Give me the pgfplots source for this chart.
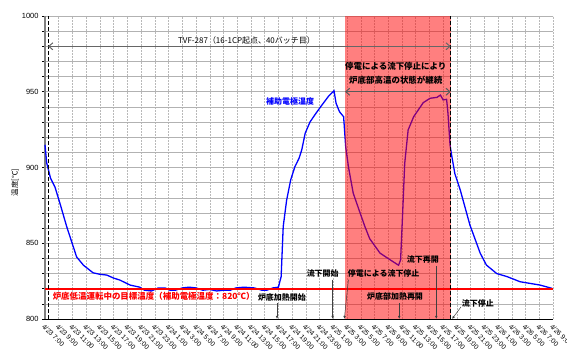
\documentclass[border=0pt]{standalone}
\usepackage{pgfplots}
\pgfplotsset{compat=1.18}
\usepackage{fontspec}
\setmainfont{Liberation Sans}
\newfontfamily\jp{Noto Sans CJK JP}
\usetikzlibrary{arrows.meta}
\begin{document}
\begin{tikzpicture}
\begin{axis}[
  at={(45bp,39bp)}, anchor=south west,
  scale only axis, width=508bp, height=303bp,
  xmin=0, xmax=74, ymin=800, ymax=1000,
  clip=false,
  axis x line*=bottom, axis y line*=left, axis line style={-},
  x axis line style={black, line width=0.9pt},
  y axis line style={gray, line width=2pt},
  xtick={0,2,...,74},
  xticklabels={4/23 7:00,4/23 9:00,4/23 11:00,4/23 13:00,4/23 15:00,4/23 17:00,4/23 19:00,4/23 21:00,4/23 23:00,4/24 1:00,4/24 3:00,4/24 5:00,4/24 7:00,4/24 9:00,4/24 11:00,4/24 13:00,4/24 15:00,4/24 17:00,4/24 19:00,4/24 21:00,4/24 23:00,4/25 1:00,4/25 3:00,4/25 5:00,4/25 7:00,4/25 9:00,4/25 11:00,4/25 13:00,4/25 15:00,4/25 17:00,4/25 19:00,4/25 21:00,4/25 23:00,4/26 1:00,4/26 3:00,4/26 5:00,4/26 7:00,4/26 9:00},
  xticklabel style={rotate=-45, anchor=north west, font=\fontsize{6.8}{8}\selectfont, inner sep=1pt},
  xtick style={draw=none},
  ytick={800,850,...,1000},
  minor ytick={810,820,...,990},
  yticklabel style={font=\fontsize{7.5}{8}\selectfont},
  ytick style={black, line width=0.6pt},
  major tick length=3bp, tick align=outside,
  /pgf/number format/assume math mode=true,
  /pgf/number format/1000 sep={},
  xmajorgrids, ymajorgrids, yminorgrids,
  x grid style={gray!55, line width=0.5pt, dash pattern=on 2bp off 1bp},
  y grid style={gray!60, line width=0.6pt},
  ylabel={\jp 温度[℃]},
  ylabel style={at={(axis description cs:-0.059,0.45)}, anchor=center, font=\fontsize{7.5}{8}\selectfont},
]
\addplot[blue, line width=1.3pt] coordinates {
(0,915) (0.25,903) (0.8,893) (1.46,887) (2.2,876) (3.16,861) (4.1,848) (4.6,841)
(5.6,835.5) (7.0,830.5) (8.0,829.5) (9.0,829) (10.0,827) (10.9,825.7) (12.4,822.4)
(13.8,821) (14.5,819) (15.5,818.5) (16.5,820.5) (17.5,820.5) (18.2,819) (19,819)
(20,820.5) (21,821) (22,820.5) (23,819) (24,819.5) (25,818.5) (26,819) (27,819)
(27.8,820.5) (29,821) (30.5,820.5) (31.6,819) (32.3,819) (33.2,820.5) (34.0,821)
(34.4,828) (34.7,861) (35.2,878.5) (35.8,892) (36.4,900.5) (37.0,906) (37.4,911.6)
(37.9,922.6) (38.6,930) (39.3,934.7) (40.3,941) (41.3,947) (42.1,950.7) (42.4,942.4)
(42.9,936.8) (43.5,933.5) (43.8,913.7) (44.2,900.5) (44.9,883) (45.9,870) (46.6,861)
(47.3,853) (48.8,843.5) (50.3,839) (51.5,835.5) (51.8,839) (52.1,870) (52.4,902.8)
(52.9,924.8) (53.7,933.5) (55.1,942.8) (56.1,945.7) (57.1,946.3) (57.6,947.8)
(58.0,944.6) (58.5,945) (58.7,935.8) (59.0,915) (59.2,909) (59.7,896) (60.5,885)
(61.9,862) (63.4,843.4) (64.3,835.6) (65.8,830) (67.3,828) (69.2,824.6) (72.1,822.4)
(73.8,820.3) (74.0,819.5)
};
\addplot[red, line width=2.3pt] coordinates {(0,820) (74,820)};
\fill[red, opacity=0.5] (axis cs:43.7,800) rectangle (axis cs:59.1,1000);
\draw[black, line width=1pt, dash pattern=on 4bp off 2bp] (axis cs:0.45,800) -- (axis cs:0.45,1000);
\draw[black, line width=1pt, dash pattern=on 4bp off 2bp] (axis cs:59.1,800) -- (axis cs:59.1,1000);
\draw[{Straight Barb[length=4bp,width=7bp]}-{Straight Barb[length=4bp,width=7bp]}, black!60, line width=1pt] (axis cs:0.45,980) -- (axis cs:59.1,980);
\draw[{Straight Barb[length=4bp,width=7bp]}-{Straight Barb[length=4bp,width=7bp]}, black!65, line width=1pt] (axis cs:43.7,950) -- (axis cs:59.1,950);
\node[font=\jp\fontsize{8}{9}\selectfont, inner sep=0pt] at (axis cs:29.35,983.8) {TVF-287（16-1CP起点、40バッチ目）};
\node[font=\jp\bfseries\fontsize{8.5}{14.5}\selectfont, align=center, inner sep=0pt] at (axis cs:51.1,962.2) {停電による流下停止により\\炉底部高温の状態が継続};
\node[font=\jp\bfseries\fontsize{8}{9}\selectfont, text=blue, inner sep=0pt] at (axis cs:35.7,943.4) {補助電極温度};
\node[font=\jp\bfseries\fontsize{8.5}{9}\selectfont, text=red, anchor=west, inner sep=0pt] at (axis cs:1.1,814.7) {炉底低温運転中の目標温度（補助電極温度：820℃）};
\node[font=\jp\bfseries\fontsize{8}{9}\selectfont, anchor=west, inner sep=0pt] at (axis cs:31.0,813.9) {炉底加熱開始};
\node[font=\jp\bfseries\fontsize{8}{9}\selectfont, anchor=west, inner sep=0pt] at (axis cs:38.1,830.2) {流下開始};
\node[font=\jp\bfseries\fontsize{8}{9}\selectfont, anchor=west, inner sep=0pt] at (axis cs:44.1,830.2) {停電による流下停止};
\node[font=\jp\bfseries\fontsize{8}{9}\selectfont, anchor=west, inner sep=0pt] at (axis cs:52.7,839) {流下再開};
\node[font=\jp\bfseries\fontsize{8}{9}\selectfont, anchor=west, inner sep=0pt] at (axis cs:46.9,814.7) {炉底部加熱再開};
\node[font=\jp\bfseries\fontsize{8}{9}\selectfont, anchor=west, inner sep=0pt] at (axis cs:60.7,810.4) {流下停止};
\draw[-{Latex[length=3bp,width=2.5bp]}, black!75, line width=0.5pt] (axis cs:33.8,810.5) -- (axis cs:33.8,800);
\draw[-{Latex[length=3bp,width=2.5bp]}, black!75, line width=0.5pt] (axis cs:41.9,826) -- (axis cs:41.9,800);
\draw[-{Latex[length=3bp,width=2.5bp]}, black!75, line width=0.5pt] (axis cs:44.2,826) -- (axis cs:43.6,800);
\draw[-{Latex[length=3bp,width=2.5bp]}, black!75, line width=0.5pt] (axis cs:51.6,810.5) -- (axis cs:51.6,800);
\draw[-{Latex[length=3bp,width=2.5bp]}, black!75, line width=0.5pt] (axis cs:57.0,835) -- (axis cs:57.0,800);
\draw[-{Latex[length=3bp,width=2.5bp]}, black!75, line width=0.5pt] (axis cs:60.6,808) -- (axis cs:59.3,800);
\end{axis}
\pgfresetboundingbox
\path (0,0) rectangle (567bp,358bp);
\end{tikzpicture}
\end{document}
